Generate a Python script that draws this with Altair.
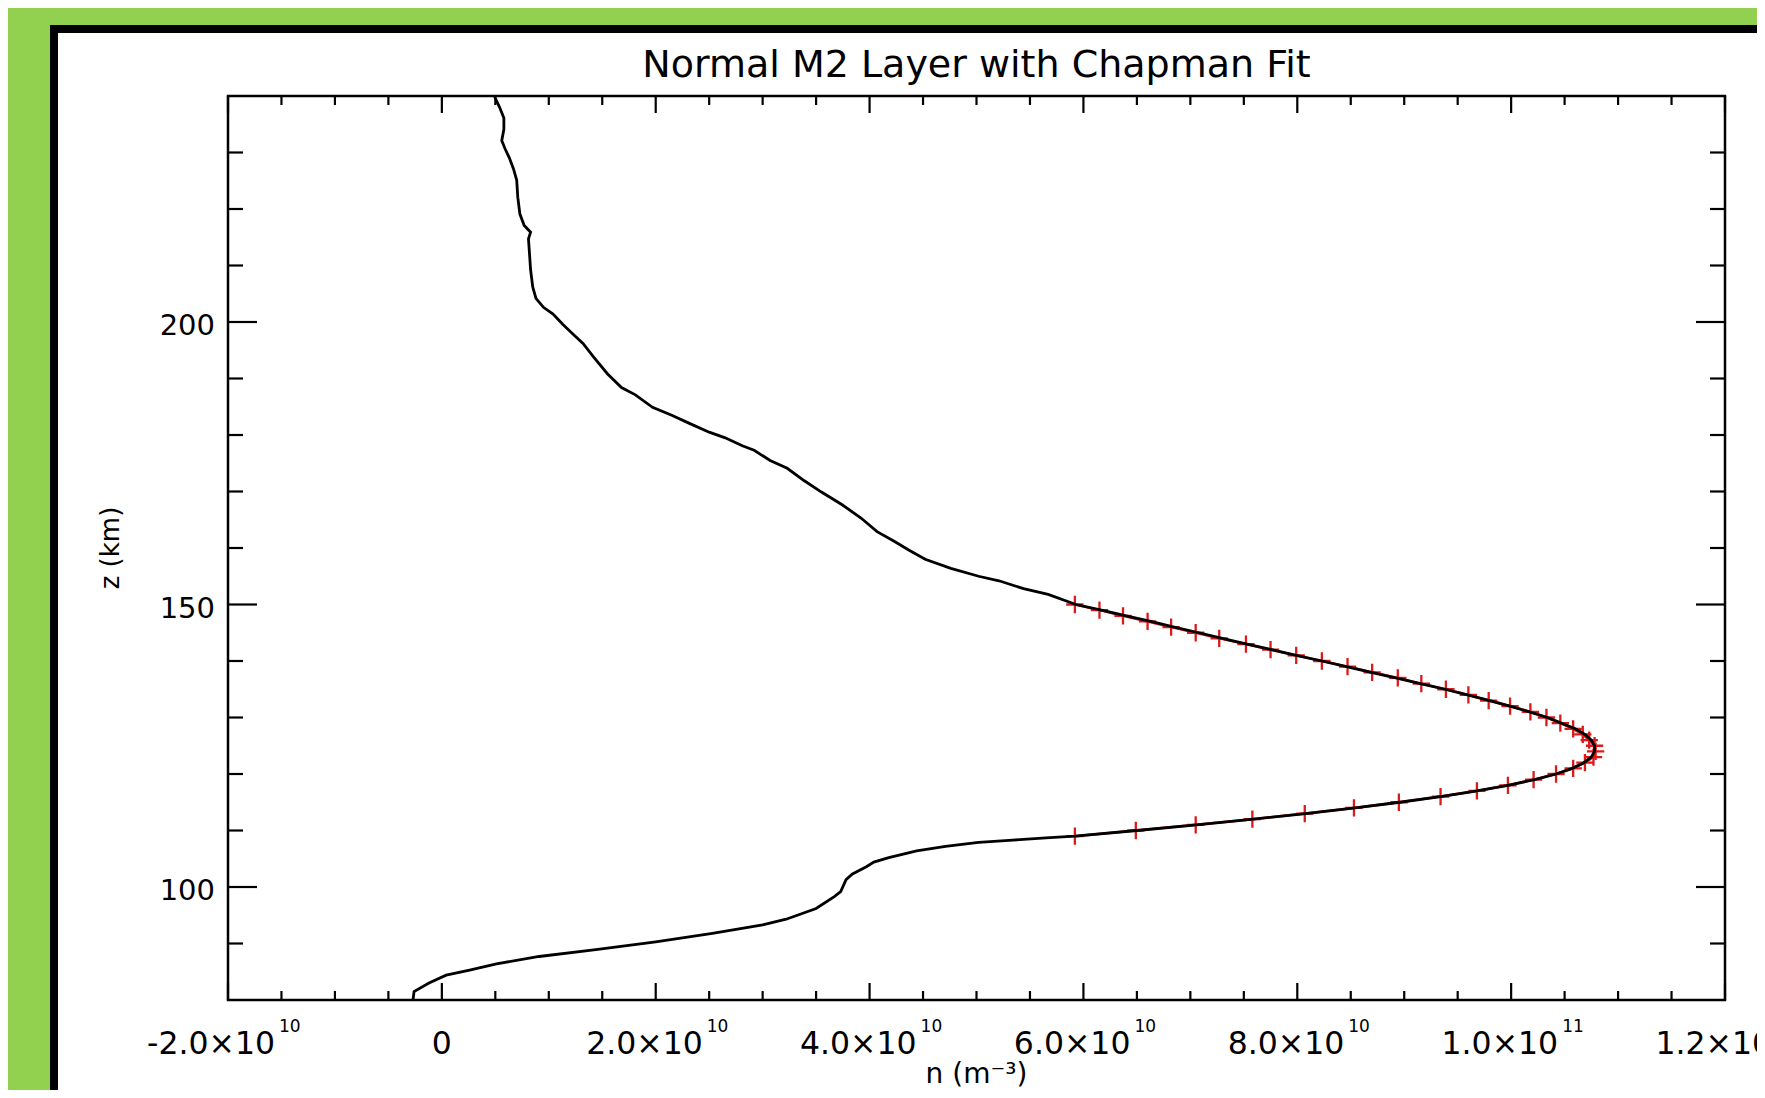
import altair as alt
import pandas as pd

TITLE = "Normal M2 Layer with Chapman Fit"
X_TITLE = "n (m⁻³)"
Y_TITLE = "z (km)"

# measured electron density profile (n in units of 1e10 m^-3, z in km), top to bottom
meas_z = [240.0, 238.0, 236.1, 234.1, 232.1, 230.7, 229.1, 227.1, 225.1, 222.1,
          219.1, 217.1, 215.9, 214.7, 212.0, 209.2, 206.2, 204.2, 202.6, 201.4,
          199.6, 197.8, 196.2, 193.8, 190.8, 188.4, 187.1, 184.9, 183.5, 182.1,
          180.5, 179.5, 178.1, 177.3, 175.5, 174.1, 171.9, 169.9, 167.7, 165.3,
          162.9, 161.2, 159.6, 158.0, 156.4, 155.0, 154.2, 152.8, 151.8,
          150, 149, 148, 147, 146, 145, 144, 143, 142, 141, 140, 139, 138, 137,
          136, 135, 134, 133, 132, 131, 130, 129, 128, 127, 126, 125, 124, 123,
          122, 121, 120, 119, 118, 117, 116, 115, 114, 113, 112, 111, 110, 109,
          108.7, 108.3, 107.9, 107.2, 106.4, 105.2, 104.4, 103.6, 102.3, 101.3,
          99.2, 98.3, 96.2, 94.3, 93.3, 91.8, 90.3, 88.9, 87.7, 86.4, 85.3,
          84.4, 83.0, 81.5, 80.0]
meas_n = [0.49, 0.54, 0.58, 0.58, 0.56, 0.59, 0.63, 0.67, 0.70, 0.71,
          0.73, 0.77, 0.83, 0.81, 0.82, 0.83, 0.85, 0.88, 0.95, 1.04,
          1.13, 1.23, 1.32, 1.42, 1.55, 1.68, 1.81, 1.97, 2.15, 2.31,
          2.50, 2.65, 2.81, 2.92, 3.07, 3.23, 3.39, 3.55, 3.74, 3.92,
          4.07, 4.23, 4.37, 4.52, 4.76, 5.02, 5.21, 5.44, 5.67,
          5.93, 6.17, 6.40, 6.63, 6.85, 7.08, 7.30, 7.53, 7.76, 7.99, 8.23, 8.46, 8.69, 8.92,
          9.15, 9.38, 9.59, 9.80, 9.99, 10.17, 10.34, 10.47, 10.60, 10.69, 10.75, 10.78, 10.78, 10.75,
          10.68, 10.57, 10.42, 10.22, 9.97, 9.68, 9.34, 8.96, 8.54, 8.08, 7.59, 7.06, 6.50, 5.92,
          5.65, 5.34, 5.02, 4.71, 4.44, 4.18, 4.04, 3.97, 3.84, 3.78,
          3.73, 3.67, 3.50, 3.22, 3.00, 2.53, 2.00, 1.44, 0.91, 0.51, 0.26,
          0.04, -0.12, -0.26, -0.27]

# Chapman fit points (n in units of 1e10 m^-3)
fit_z = [150, 149, 148, 147, 146, 145, 144, 143, 142, 141, 140, 139, 138, 137,
         136, 135, 134, 133, 132, 131, 130, 129, 128, 127, 126, 125, 124, 123,
         122, 121, 120, 119, 118, 117, 116, 115, 114, 113, 112, 111, 110, 109]
fit_n = [5.92, 6.15, 6.37, 6.60, 6.82, 7.05, 7.27, 7.52, 7.75, 7.99, 8.23, 8.47, 8.70, 8.94,
         9.16, 9.39, 9.60, 9.79, 9.99, 10.18, 10.33, 10.46, 10.58, 10.67, 10.73, 10.78, 10.79, 10.77,
         10.69, 10.58, 10.42, 10.21, 9.97, 9.68, 9.34, 8.95, 8.53, 8.07, 7.58, 7.05, 6.49, 5.92]

# axis ticks (x in units of 1e10)
x_major = [-2, 0, 2, 4, 6, 8, 10, 12]
x_base = ["-2.0×10", "0", "2.0×10", "4.0×10", "6.0×10", "8.0×10", "1.0×10", "1.2×10"]
x_exp = ["10", "", "10", "10", "10", "10", "11", "11"]
x_minor = [-1.5, -1.0, -0.5, 0.5, 1.0, 1.5, 2.5, 3.0, 3.5, 4.5, 5.0, 5.5,
           6.5, 7.0, 7.5, 8.5, 9.0, 9.5, 10.5, 11.0, 11.5]
y_major = [100, 150, 200]
y_labels = ["100", "150", "200"]
y_minor = [90, 110, 120, 130, 140, 160, 170, 180, 190, 210, 220, 230]

E = 1e10
W, H = 1497, 904
FONT = "DejaVu Sans"
RED = "#dd1a1a"

meas = pd.DataFrame({"n": [v * E for v in meas_n], "z": meas_z, "i": list(range(len(meas_z)))})
fit = pd.DataFrame({"n": [v * E for v in fit_n], "z": fit_z, "i": list(range(len(fit_z)))})
xmaj = pd.DataFrame({"n": [v * E for v in x_major], "base": x_base, "exp": x_exp})
xlab_exp = xmaj[xmaj["exp"] != ""]
xlab_plain = xmaj[xmaj["exp"] == ""]
xmin = pd.DataFrame({"n": [v * E for v in x_minor]})
ymaj = pd.DataFrame({"z": y_major, "label": y_labels})
ymin = pd.DataFrame({"z": y_minor})
one = pd.DataFrame({"a": [0]})

xs = alt.Scale(domain=[-2e10, 1.2e11], nice=False, zero=False)
ys = alt.Scale(domain=[80, 240], nice=False, zero=False)


def X():
    return alt.X("n:Q", scale=xs, axis=None)


def Y():
    return alt.Y("z:Q", scale=ys, axis=None)


frame_black = alt.Chart(one).mark_rect(color="black").encode(
    x=alt.value(-178), x2=alt.value(1700), y=alt.value(-71), y2=alt.value(1200))
frame_white = alt.Chart(one).mark_rect(color="white").encode(
    x=alt.value(-170), x2=alt.value(1700), y=alt.value(-63), y2=alt.value(1200))
box = alt.Chart(one).mark_rect(fillOpacity=0, stroke="black", strokeWidth=2.5).encode(
    x=alt.value(0), x2=alt.value(W), y=alt.value(0), y2=alt.value(H))

TK = dict(color="black", strokeWidth=2.2)
xt_b_maj = alt.Chart(xmaj).mark_rule(**TK).encode(x=X(), y=alt.value(H), y2=alt.value(H - 17))
xt_t_maj = alt.Chart(xmaj).mark_rule(**TK).encode(x=X(), y=alt.value(0), y2=alt.value(17))
xt_b_min = alt.Chart(xmin).mark_rule(**TK).encode(x=X(), y=alt.value(H), y2=alt.value(H - 9))
xt_t_min = alt.Chart(xmin).mark_rule(**TK).encode(x=X(), y=alt.value(0), y2=alt.value(9))
yt_l_maj = alt.Chart(ymaj).mark_rule(**TK).encode(y=Y(), x=alt.value(0), x2=alt.value(29))
yt_r_maj = alt.Chart(ymaj).mark_rule(**TK).encode(y=Y(), x=alt.value(W), x2=alt.value(W - 29))
yt_l_min = alt.Chart(ymin).mark_rule(**TK).encode(y=Y(), x=alt.value(0), x2=alt.value(15))
yt_r_min = alt.Chart(ymin).mark_rule(**TK).encode(y=Y(), x=alt.value(W), x2=alt.value(W - 15))

fit_line = alt.Chart(fit).mark_line(color=RED, strokeWidth=2.5).encode(
    x=X(), y=Y(), order="i:Q")
fit_pts = alt.Chart(fit).mark_point(
    shape="M-1,0L1,0M0,-1L0,1", size=300, stroke=RED, strokeWidth=2.3, filled=False, opacity=1
).encode(x=X(), y=Y())
meas_line = alt.Chart(meas).mark_line(color="black", strokeWidth=2.8).encode(
    x=X(), y=Y(), order="i:Q")

TXT = dict(font=FONT, color="black", baseline="alphabetic")
xlab_b = alt.Chart(xlab_exp).mark_text(fontSize=31.5, align="right", dx=47, **TXT).encode(
    x=X(), y=alt.value(H + 54), text="base:N")
xlab_e = alt.Chart(xlab_exp).mark_text(fontSize=17, align="left", dx=51, **TXT).encode(
    x=X(), y=alt.value(H + 32), text="exp:N")
xlab_p = alt.Chart(xlab_plain).mark_text(fontSize=31.5, align="center", **TXT).encode(
    x=X(), y=alt.value(H + 54), text="base:N")
ylab = alt.Chart(ymaj).mark_text(fontSize=29, align="right", dy=13, **TXT).encode(
    y=Y(), x=alt.value(-13), text="label:N")
title = alt.Chart(one).mark_text(text=TITLE, fontSize=38, align="center", **TXT).encode(
    x=alt.value(W / 2), y=alt.value(-19))
xtitle = alt.Chart(one).mark_text(text=X_TITLE, fontSize=28, align="center", **TXT).encode(
    x=alt.value(W / 2), y=alt.value(H + 83))
ytitle = alt.Chart(one).mark_text(text=Y_TITLE, fontSize=26, align="center", font=FONT,
                                  color="black", baseline="middle", angle=270).encode(
    x=alt.value(-117), y=alt.value(H / 2))

chart = alt.layer(
    frame_black, frame_white,
    fit_line, fit_pts, meas_line,
    box, xt_b_maj, xt_t_maj, xt_b_min, xt_t_min, yt_l_maj, yt_r_maj, yt_l_min, yt_r_min,
    xlab_b, xlab_e, xlab_p, ylab, title, xtitle, ytitle,
).properties(
    width=W, height=H,
    padding={"left": 220, "top": 88, "right": 32, "bottom": 90},
    autosize=alt.AutoSizeParams(type="none"),
).configure(background="#92d050").configure_view(strokeWidth=0)

chart.save("out.html", embed_options={"renderer": "svg", "actions": False})
